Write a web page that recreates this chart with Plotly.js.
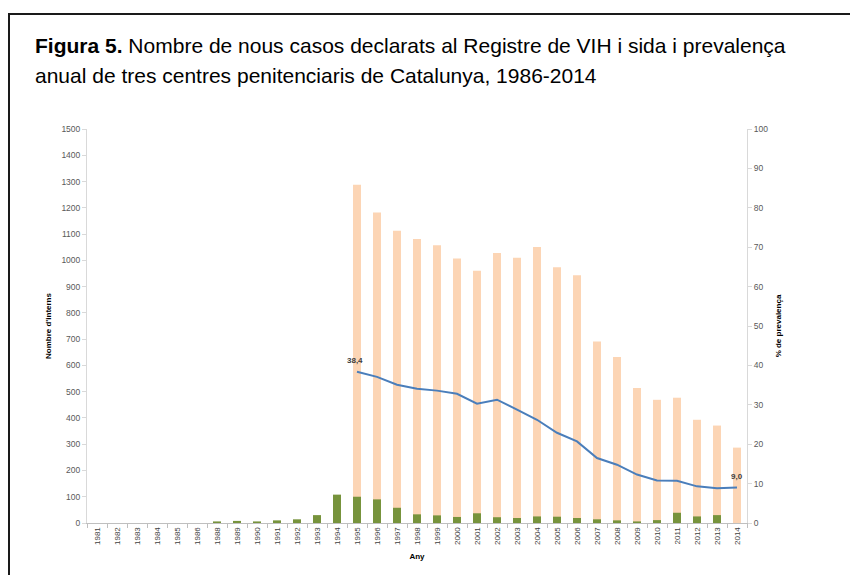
<!DOCTYPE html>
<html>
<head>
<meta charset="utf-8">
<script src="https://cdn.plot.ly/plotly-3.0.1.min.js"></script>
<style>
  html, body { margin: 0; padding: 0; background: #ffffff; overflow: hidden; }
  #frame { position: absolute; left: 8px; top: 13px; width: 900px; height: 700px; border: 2px solid #1a1a1a; box-sizing: border-box; }
  #chart { position: absolute; left: 0; top: 0; width: 850px; height: 575px; }
</style>
</head>
<body>
<div id="frame"></div>
<div id="chart"></div>
<script>
// ---- Data ----
const years = ['1981','1982','1983','1984','1985','1986','1988','1989','1990','1991','1992','1993','1994',
  '1995','1996','1997','1998','1999','2000','2001','2002','2003','2004','2005','2006','2007','2008',
  '2009','2010','2011','2012','2013','2014'];

// Orange bars: number of interns (from 1995)
const interns = [null,null,null,null,null,null,null,null,null,null,null,null,null,
  1288,1182,1113,1081,1057,1007,960,1028,1010,1051,974,943,691,632,514,469,477,393,371,287];

// Green bars: new declared HIV/AIDS cases
const newCases = [null,null,null,null,null,null,6,8,6,10,14,30,108,
  100,90,58,33,29,23,37,22,19,25,24,19,14,10,6,11,39,25,30,0];

// Blue line: prevalence (%)
const prevalence = [null,null,null,null,null,null,null,null,null,null,null,null,null,
  38.4,37.1,35.1,34.1,33.6,32.8,30.3,31.3,28.8,26.2,22.9,20.7,16.5,14.8,12.3,10.8,10.7,9.3,8.8,9.0];

const labelFirst = '38,4';
const labelLast = '9,0';

const titleLine1 = '<b>Figura 5.</b> Nombre de nous casos declarats al Registre de VIH i sida i prevalença';
const titleLine2 = 'anual de tres centres penitenciaris de Catalunya, 1986-2014';

// ---- Plot ----
const font = 'Liberation Sans Narrow, Liberation Sans, Arial, sans-serif';
const tickFont = {family: 'Liberation Sans, Arial, sans-serif', size: 8.5, color: '#595959'};
const xTickFont = {family: 'Liberation Sans, Arial, sans-serif', size: 8, color: '#404040'};
const axTitleFont = {family: 'Liberation Sans, Arial, sans-serif', size: 8, color: '#000000', weight: 'bold'};

const traces = [
  {type: 'bar', x: years, y: interns, marker: {color: '#FCD5B5'}, name: 'Interns'},
  {type: 'bar', x: years, y: newCases, marker: {color: '#77933C'}, name: 'Casos'},
  {type: 'scatter', mode: 'lines', x: years, y: prevalence, yaxis: 'y2',
   line: {color: '#4A7EBB', width: 2}, connectgaps: false, name: 'Prevalença'}
];

const i95 = years.indexOf('1995');
const i14 = years.indexOf('2014');

const layout = {
  width: 850, height: 575,
  margin: {l: 87, r: 103, t: 129, b: 52},
  paper_bgcolor: 'rgba(0,0,0,0)',
  plot_bgcolor: 'rgba(0,0,0,0)',
  showlegend: false,
  barmode: 'overlay',
  bargap: 0.6,
  font: {family: 'Liberation Sans, Arial, sans-serif'},
  xaxis: {
    type: 'category', categoryorder: 'array', categoryarray: years,
    range: [-0.5, years.length - 0.5], autorange: false,
    tickangle: -90, tickfont: xTickFont,
    showline: true, linecolor: '#BFBFBF', linewidth: 1,
    ticks: 'outside', ticklen: 4, tickcolor: '#BFBFBF', tickson: 'boundaries',
    showgrid: false, zeroline: false,
    title: {text: 'Any', font: axTitleFont, standoff: 9}
  },
  yaxis: {
    range: [0, 1500], autorange: false, dtick: 100, tick0: 0,
    tickfont: tickFont, showline: true, linecolor: '#D9D9D9', linewidth: 1,
    ticks: 'outside', ticklen: 4, tickcolor: '#D9D9D9',
    showgrid: false, zeroline: false,
    title: {text: "Nombre d'interns", font: axTitleFont, standoff: 8}
  },
  yaxis2: {
    overlaying: 'y', side: 'right', range: [0, 100], autorange: false, dtick: 10, tick0: 0,
    tickfont: tickFont, showline: true, linecolor: '#D9D9D9', linewidth: 1,
    ticks: 'outside', ticklen: 4, tickcolor: '#D9D9D9',
    showgrid: false, zeroline: false,
    title: {text: '% de prevalença', font: axTitleFont, standoff: 8}
  },
  annotations: [
    {xref: 'paper', yref: 'paper', x: -0.082, y: 1.213, xanchor: 'left', yanchor: 'middle',
     text: titleLine1, showarrow: false, font: {family: font, size: 21, color: '#000000'}},
    {xref: 'paper', yref: 'paper', x: -0.082, y: 1.137, xanchor: 'left', yanchor: 'middle',
     text: titleLine2, showarrow: false, font: {family: font, size: 21, color: '#000000'}},
    {xref: 'x', yref: 'y2', x: i95, y: prevalence[i95], text: '<b>' + labelFirst + '</b>', showarrow: false,
     xshift: -2, yshift: 11, font: {family: 'Liberation Sans, Arial, sans-serif', size: 8, color: '#404040'}},
    {xref: 'x', yref: 'y2', x: i14, y: prevalence[i14], text: '<b>' + labelLast + '</b>', showarrow: false,
     xshift: 0, yshift: 11, font: {family: 'Liberation Sans, Arial, sans-serif', size: 8, color: '#404040'}}
  ]
};

Plotly.newPlot('chart', traces, layout, {displayModeBar: false, staticPlot: true});
</script>
</body>
</html>
